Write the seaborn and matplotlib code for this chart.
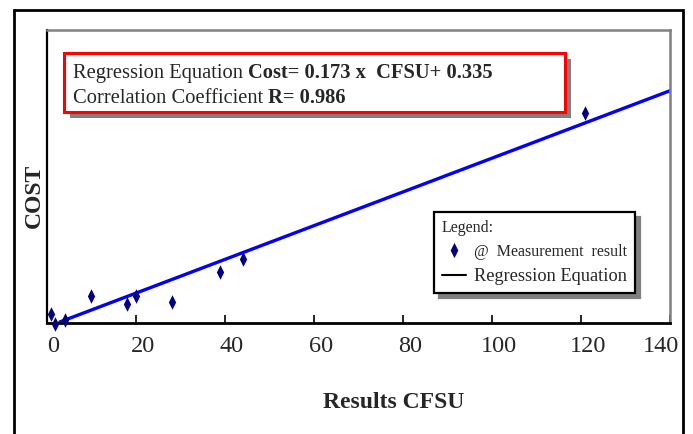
import numpy as np
import pandas as pd
import seaborn as sns
import matplotlib.pyplot as plt
from matplotlib.lines import Line2D
from matplotlib.markers import MarkerStyle
from matplotlib.patches import Rectangle
from matplotlib.text import Annotation
from matplotlib.transforms import ScaledTranslation

cfsu = [1.1, 2.0, 4.25, 10.0, 18.1, 20.0, 28.1, 38.9, 44.2, 121.0]
cost = [1.67, 0.65, 1.05, 3.51, 2.69, 3.51, 2.90, 5.97, 7.31, 22.27]

# regression
slope = 0.173
intercept = 0.335
r_value = 0.986
line_x = [3, 140]

x_ticks = [0, 20, 40, 60, 80, 100, 120, 140]

sns.set_style('white')
plt.rcParams['font.family'] = ['Liberation Serif', 'DejaVu Serif']

W, H = 693, 434
fig = plt.figure(figsize=(6.93, 4.34), dpi=100)
ax = fig.add_axes([46.5 / W, 1 - 323 / H, (670 - 46.5) / W, 293 / H])

df = pd.DataFrame({'CFSU': cfsu, 'Cost': cost})
fit = pd.DataFrame({'CFSU': line_x})
fit['Cost'] = slope * fit['CFSU'] + intercept

diamond = MarkerStyle([(0, 1), (0.5, 0), (0, -1), (-0.5, 0), (0, 1)])

sns.lineplot(data=fit, x='CFSU', y='Cost', color='#0000ff', lw=2.4, ax=ax, zorder=2)
sns.scatterplot(data=df, x='CFSU', y='Cost', marker=diamond, s=110, color='#000080',
                edgecolor='#000080', linewidth=0, ax=ax, zorder=3, clip_on=False)

ax.set_xlim(0, 140)
ax.set_ylim(0.747, 30.78)
ax.set_xticks(x_ticks)
ax.set_yticks([])
ax.tick_params(axis='x', direction='in', length=5.5, width=1.2, color='black',
               labelsize=17.5, pad=9.5, bottom=True)

for side in ['left', 'bottom']:
    ax.spines[side].set_color('black')
ax.spines['left'].set_linewidth(1.6)
ax.spines['bottom'].set_linewidth(2)
for side in ['top', 'right']:
    ax.spines[side].set_color('#808080')
    ax.spines[side].set_linewidth(1.8)

# tick labels sit a bit off their ticks in the original
labels = ax.get_xticklabels()
for i, lab in enumerate(labels):
    dx = -9 if i == len(labels) - 1 else 7
    lab.set_transform(lab.get_transform() + ScaledTranslation(dx / 100, 0, fig.dpi_scale_trans))

ax.set_xlabel('Results CFSU', fontsize=17, fontweight='bold')
ax.xaxis.set_label_coords((394 - 46.5) / 623.5, (323 - 403) / 293)
ax.xaxis.label.set_va('center')
ax.set_ylabel('COST', fontsize=17, fontweight='bold')
ax.yaxis.set_label_coords((34 - 46.5) / 623.5, (323 - 195.5) / 293)
ax.yaxis.label.set_va('center')

# equation box with shadow
bx, by, bw, bh = 64, 52.7, 501, 59
fig.add_artist(Rectangle(((bx + 6) / W, 1 - (by + bh + 6) / H), bw / W, bh / H,
                         transform=fig.transFigure, fc='#808080', ec='none', zorder=5))
fig.add_artist(Rectangle((bx / W, 1 - (by + bh) / H), bw / W, bh / H,
                         transform=fig.transFigure, fc='white', ec='#ff0000', lw=2.2, zorder=6))

t1 = fig.text(72.7 / W, 1 - 78.3 / H, 'Regression Equation ', fontsize=14.8,
              va='baseline', zorder=7)
fig.add_artist(Annotation(f'Cost= {slope} x  CFSU+ {intercept}', xy=(1, 0), xycoords=t1,
                          va='bottom', ha='left', fontsize=14.8, fontweight='bold', zorder=7))
t3 = fig.text(72.7 / W, 1 - 103.3 / H, 'Correlation Coefficient ', fontsize=14.8,
              va='baseline', zorder=7)
fig.add_artist(Annotation(f'R= {r_value}', xy=(1, 0), xycoords=t3,
                          va='bottom', ha='left', fontsize=14.8, fontweight='bold', zorder=7))

# legend
handles = [Line2D([], [], ls='none', marker=diamond, ms=11, color='#000080', mec='#000080', mew=0),
           Line2D([], [], color='black', lw=1.5)]
leg = ax.legend(handles, ['@  Measurement  result', 'Regression Equation'], title='Legend:',
                loc='upper left', bbox_to_anchor=(434 / W, 1 - 212 / H), bbox_transform=fig.transFigure,
                frameon=True, fancybox=False, edgecolor='black', framealpha=1,
                shadow={'ox': 3.5, 'oy': -3.5, 'color': '#808080', 'alpha': 1},
                borderpad=0.5, labelspacing=0.5, handlelength=1.5, handletextpad=0.5,
                alignment='left', title_fontsize=11.5, fontsize=11.5, borderaxespad=0)
leg.get_frame().set_linewidth(1.6)
leg.get_texts()[1].set_fontsize(13.2)

# outer frame
fig.add_artist(Rectangle((14 / W, -0.1), (683 - 14) / W, 1 - 10 / H + 0.1,
                         transform=fig.transFigure, fill=False, ec='black', lw=2))

fig.savefig('out.png', dpi=100)
